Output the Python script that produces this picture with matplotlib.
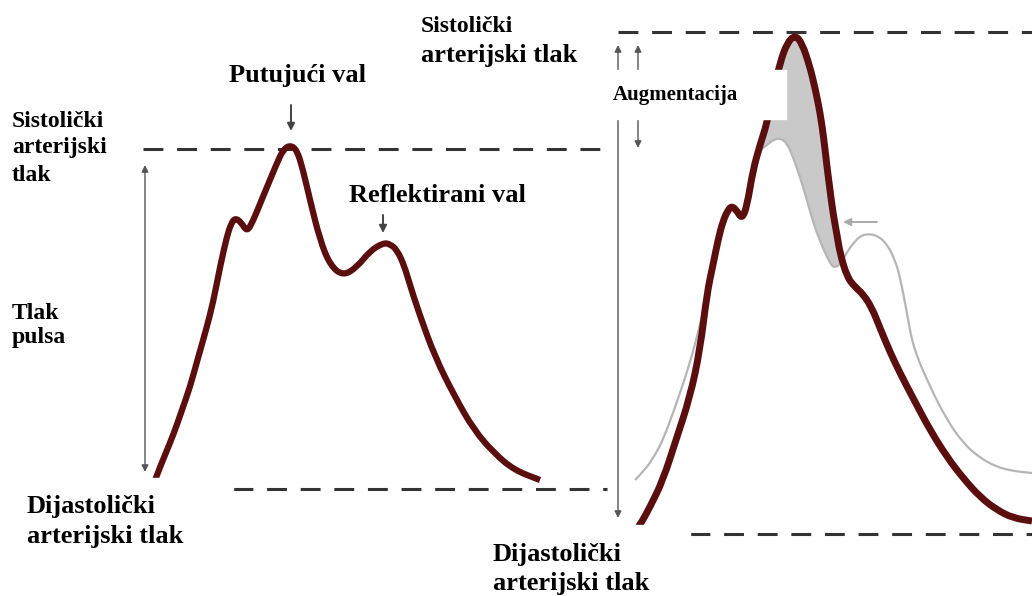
import numpy as np
import matplotlib
matplotlib.use("Agg")
import matplotlib.pyplot as plt
from matplotlib.patches import Rectangle, PathPatch
from matplotlib.path import Path

# curve points (pixel coordinates, y down)
left_x = [150, 156, 165, 174, 182, 190, 198, 206, 213, 220, 227, 231, 235, 241, 247, 253, 260,
          267, 277, 283, 290, 297, 303, 310, 320, 330, 343, 357, 370, 383, 390, 397, 404, 410,
          419, 435, 455, 474, 494, 514, 540]
left_y = [495, 477, 455, 433, 410, 387, 358, 330, 303, 267, 236, 224, 218, 222, 232, 221, 204,
          187, 163, 150, 145, 150, 170, 200, 240, 265, 276, 267, 251, 243, 244, 250, 265, 285,
          313, 357, 397, 430, 453, 470, 480]

dark_x = [630, 640, 650, 663, 676, 690, 700, 707, 713, 718, 723, 728, 732, 737, 742, 747, 753,
          760, 767, 773, 780, 787, 795, 802, 810, 815, 820, 824, 827, 830, 833, 837, 840, 847,
          855, 863, 872, 880, 890, 900, 913, 930, 947, 963, 980, 997, 1013, 1032]
dark_y = [540, 525, 507, 480, 440, 397, 350, 293, 265, 240, 221, 210, 206, 211, 219, 206, 170,
          145, 123, 93, 63, 43, 35, 43, 67, 88, 112, 140, 167, 190, 213, 235, 253, 277, 287,
          294, 308, 328, 352, 373, 398, 430, 457, 478, 497, 510, 518, 521]

gray_x = [635, 645, 655, 663, 676, 690, 700, 708, 713, 718, 723, 728, 732, 737, 742, 747, 753,
          760, 767, 773, 780, 787, 793, 800, 807, 813, 820, 827, 833, 840, 847, 855, 862, 870,
          878, 887, 895, 900, 907, 913, 930, 947, 963, 980, 997, 1013, 1032]
gray_y = [480, 470, 455, 440, 405, 363, 325, 290, 270, 245, 224, 212, 208, 212, 218, 208, 172,
          150, 145, 140, 138, 143, 157, 177, 200, 222, 241, 257, 268, 265, 252, 241, 235, 234,
          236, 244, 260, 277, 313, 347, 387, 420, 443, 458, 467, 471, 473]

red = "#5b0e0e"
dash_col = "#333333"
arr_col = "#555555"
font = "Liberation Serif"

fig = plt.figure(figsize=(10.32, 5.96), dpi=100)
ax = fig.add_axes([0, 0, 1, 1])
ax.set_xlim(0, 1032)
ax.set_ylim(596, 0)
ax.axis("off")


def curve(xs, ys, col, lw, z):
    # quadratic bezier through midpoints so the wave looks smooth
    pts = list(zip(xs, ys))
    verts = [pts[0]]
    codes = [Path.MOVETO]
    for i in range(1, len(pts) - 1):
        mid = ((pts[i][0] + pts[i + 1][0]) / 2, (pts[i][1] + pts[i + 1][1]) / 2)
        verts += [pts[i], mid]
        codes += [Path.CURVE3, Path.CURVE3]
    verts.append(pts[-1])
    codes.append(Path.LINETO)
    ax.add_patch(PathPatch(Path(verts, codes), fill=False, edgecolor=col, lw=lw,
                           capstyle="butt", joinstyle="round", zorder=z))


def dashed(x0, x1, y):
    ax.plot([x0, x1], [y, y], color=dash_col, lw=2.2, dashes=(6.5, 4.5), zorder=2)


dashed(143, 607, 149)
dashed(233, 607, 489)
dashed(618, 1032, 32)
dashed(690, 1032, 534)

# augmentation area between the two waves
dx = np.array(dark_x); dy = np.array(dark_y)
gx = np.array(gray_x); gy = np.array(gray_y)
m1 = (dx >= 760) & (dx <= 840)
m2 = (gx >= 760) & (gx <= 840)
ax.fill(np.r_[dx[m1], gx[m2][::-1]], np.r_[dy[m1], gy[m2][::-1]], color="#c9c9c9", lw=0, zorder=3)

curve(gray_x, gray_y, "#b5b5b5", 1.6, 4)
curve(dark_x, dark_y, red, 5, 5)
curve(left_x, left_y, red, 4.5, 5)


def arrow(x0, y0, x1, y1, style="-|>", col=arr_col, lw=1.0, ms=10):
    ax.annotate("", xy=(x1, y1), xytext=(x0, y0),
                arrowprops=dict(arrowstyle=style, color=col, lw=lw, mutation_scale=ms,
                                shrinkA=0, shrinkB=0), zorder=6)


arrow(145, 472, 145, 165, style="<|-|>")
arrow(618, 518, 618, 45, style="<|-|>")
arrow(638, 148, 638, 45, style="<|-|>")
arrow(291, 105, 291, 131, col="#444444", lw=1.4, ms=11)
arrow(383, 215, 383, 233, col="#444444", lw=1.4, ms=11)
arrow(877, 222, 843, 222, col="#aaaaaa", lw=1.4, ms=11)

# white boxes that hide parts of the drawing
ax.add_patch(Rectangle((580, 70), 206, 49, color="white", zorder=7))
ax.add_patch(Rectangle((0, 478), 233, 118, color="white", zorder=7))
ax.add_patch(Rectangle((480, 525), 210, 71, color="white", zorder=7))

# labels
big = 19
small = 17
kw = dict(fontfamily=font, fontweight="bold", color="black", va="baseline", ha="left", zorder=8)
ax.text(229, 82, "Putujući val", fontsize=big, **kw)
ax.text(349, 202, "Reflektirani val", fontsize=big, **kw)
ax.text(12, 127, "Sistolički", fontsize=small, **kw)
ax.text(12, 153, "arterijski", fontsize=small, **kw)
ax.text(12, 181, "tlak", fontsize=small, **kw)
ax.text(12, 319, "Tlak", fontsize=small, **kw)
ax.text(12, 343, "pulsa", fontsize=small, **kw)
ax.text(27, 513, "Dijastolički", fontsize=big, **kw)
ax.text(27, 543, "arterijski tlak", fontsize=big, **kw)
ax.text(421, 32, "Sistolički", fontsize=17, **kw)
ax.text(421, 62, "arterijski tlak", fontsize=big, **kw)
ax.text(613, 100, "Augmentacija", fontsize=15, **kw)
ax.text(493, 561, "Dijastolički", fontsize=big, **kw)
ax.text(493, 590, "arterijski tlak", fontsize=big, **kw)

fig.savefig("out.png", dpi=100, facecolor="white")
